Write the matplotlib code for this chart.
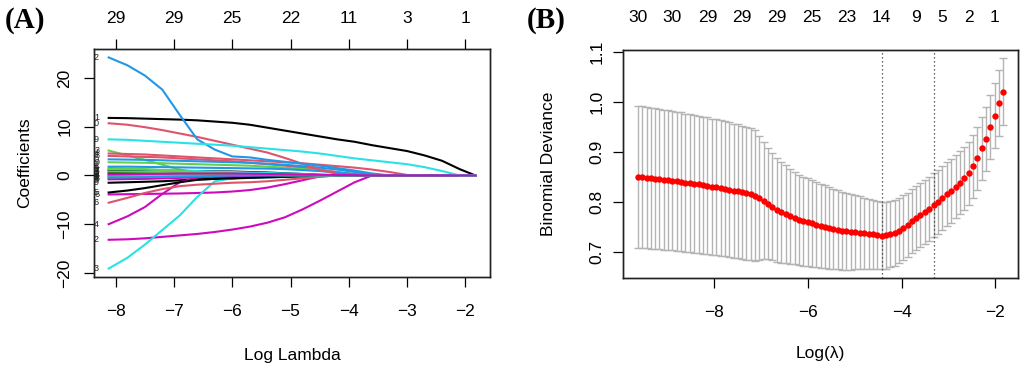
import matplotlib
matplotlib.use("Agg")
import matplotlib.pyplot as plt
import numpy as np

plt.rcParams['font.family'] = ['Liberation Sans', 'DejaVu Sans']

# ---------------- Panel A: LASSO coefficient paths ----------------
PALETTE = ['#000000', '#DF536B', '#61D04F', '#2297E6', '#28E2E5', '#CD0BBC']

path_log_lambda = [-8.12, -7.8, -7.5, -7.2, -6.9, -6.6, -6.3, -6.0, -5.7, -5.4, -5.1,
                   -4.8, -4.5, -4.2, -3.9, -3.6, -3.3, -3.0, -2.7, -2.4, -2.1, -1.83]

coef_v1 = [11.8, 11.75, 11.65, 11.55, 11.45, 11.3, 11.05, 10.8, 10.4, 9.8, 9.2, 8.6, 8.0, 7.4, 6.9, 6.2, 5.6, 5.0, 4.1, 3.0, 1.3, 0.0]
coef_v2 = [0.3, 0.3, 0.28, 0.25, 0.2, 0.15, 0.1, 0.05, 0, 0, 0, 0, 0, 0, 0, 0, 0, 0, 0, 0, 0, 0]
coef_v3 = [5.1, 4.1, 3.2, 2.2, 1.2, 0.5, 0.45, 0.4, 0.35, 0.3, 0.25, 0.2, 0.1, 0, 0, 0, 0, 0, 0, 0, 0, 0]
coef_v4 = [-0.1, -0.1, -0.1, -0.08, -0.05, 0, 0, 0, 0, 0, 0, 0, 0, 0, 0, 0, 0, 0, 0, 0, 0, 0]
coef_v5 = [-0.7, -0.65, -0.6, -0.5, -0.4, -0.3, -0.15, 0, 0, 0, 0, 0, 0, 0, 0, 0, 0, 0, 0, 0, 0, 0]
coef_v6 = [-3.9, -3.85, -3.8, -3.75, -3.7, -3.6, -3.5, -3.3, -3.0, -2.5, -1.8, -1.0, -0.2, 0, 0, 0, 0, 0, 0, 0, 0, 0]
coef_v7 = [1.1, 1.08, 1.05, 1.0, 0.95, 0.9, 0.85, 0.8, 0.7, 0.6, 0.45, 0.3, 0.1, 0, 0, 0, 0, 0, 0, 0, 0, 0]
coef_v8 = [4.0, 3.9, 3.8, 3.7, 3.5, 3.3, 3.1, 2.9, 2.6, 2.3, 2.0, 1.6, 1.2, 0.7, 0.2, 0, 0, 0, 0, 0, 0, 0]
coef_v9 = [2.7, 2.65, 2.6, 2.5, 2.4, 2.3, 2.2, 2.1, 2.0, 1.8, 1.6, 1.3, 1.0, 0.6, 0.2, 0, 0, 0, 0, 0, 0, 0]
coef_v10 = [3.3, 3.25, 3.2, 3.1, 3.0, 2.9, 2.8, 2.7, 2.6, 2.4, 2.2, 1.9, 1.6, 1.2, 0.7, 0.2, 0, 0, 0, 0, 0, 0]
coef_v11 = [1.3, 1.25, 1.2, 1.1, 1.0, 0.9, 0.8, 0.7, 0.6, 0.5, 0.4, 0.3, 0.15, 0, 0, 0, 0, 0, 0, 0, 0, 0]
coef_v12 = [-13.2, -13.1, -12.9, -12.6, -12.3, -12.0, -11.6, -11.1, -10.5, -9.7, -8.6, -7.0, -5.2, -3.3, -1.4, 0, 0, 0, 0, 0, 0, 0]
coef_v13 = [0.6, 0.58, 0.55, 0.5, 0.45, 0.4, 0.35, 0.3, 0.2, 0.1, 0, 0, 0, 0, 0, 0, 0, 0, 0, 0, 0, 0]
coef_v14 = [4.5, 4.4, 4.3, 4.1, 3.9, 3.7, 3.5, 3.3, 3.1, 2.9, 2.7, 2.5, 2.2, 1.9, 1.6, 1.2, 0.7, 0.1, 0, 0, 0, 0]
coef_v15 = [1.5, 1.4, 1.3, 1.1, 0.9, 0.7, 0.5, 0.35, 0.2, 0.1, 0, 0, 0, 0, 0, 0, 0, 0, 0, 0, 0, 0]
coef_v16 = [1.8, 1.8, 1.75, 1.7, 1.65, 1.6, 1.55, 1.5, 1.45, 1.4, 1.3, 1.1, 0.9, 0.6, 0.3, 0, 0, 0, 0, 0, 0, 0]
coef_v17 = [-0.2, -0.2, -0.15, -0.1, 0, 0, 0, 0, 0, 0, 0, 0, 0, 0, 0, 0, 0, 0, 0, 0, 0, 0]
coef_v18 = [-0.8, -0.75, -0.7, -0.6, -0.5, -0.35, -0.2, 0, 0, 0, 0, 0, 0, 0, 0, 0, 0, 0, 0, 0, 0, 0]
coef_v19 = [-1.5, -1.4, -1.3, -1.2, -1.0, -0.8, -0.7, -0.6, -0.4, -0.3, -0.1, 0, 0, 0, 0, 0, 0, 0, 0, 0, 0, 0]
coef_v20 = [10.7, 10.4, 9.9, 9.3, 8.6, 7.9, 7.1, 6.3, 5.5, 4.7, 3.6, 2.4, 1.2, 0.3, 0, 0, 0, 0, 0, 0, 0, 0]
coef_v21 = [-0.3, -0.3, -0.25, -0.2, -0.1, 0, 0, 0, 0, 0, 0, 0, 0, 0, 0, 0, 0, 0, 0, 0, 0, 0]
coef_v22 = [24.2, 22.6, 20.5, 17.6, 12.4, 7.4, 5.3, 3.9, 3.7, 3.2, 2.8, 2.4, 2.0, 1.5, 1.0, 0.4, 0, 0, 0, 0, 0, 0]
coef_v23 = [-19.1, -16.9, -14.2, -11.2, -8.2, -4.4, -1.2, -0.6, -0.5, -0.4, -0.3, -0.2, -0.1, 0, 0, 0, 0, 0, 0, 0, 0, 0]
coef_v24 = [-10.0, -8.4, -6.5, -3.8, -1.4, -0.4, -0.3, -0.3, -0.2, -0.2, -0.1, 0, 0, 0, 0, 0, 0, 0, 0, 0, 0, 0]
coef_v25 = [-3.5, -3.1, -2.6, -2.0, -1.4, -0.9, -0.7, -0.6, -0.5, -0.4, -0.3, -0.2, -0.1, 0, 0, 0, 0, 0, 0, 0, 0, 0]
coef_v26 = [-5.6, -4.6, -3.6, -2.8, -2.2, -1.9, -1.7, -1.5, -1.4, -1.2, -0.9, -0.6, -0.3, 0, 0, 0, 0, 0, 0, 0, 0, 0]
coef_v27 = [0.8, 0.78, 0.75, 0.7, 0.6, 0.5, 0.4, 0.3, 0.2, 0.1, 0, 0, 0, 0, 0, 0, 0, 0, 0, 0, 0, 0]
coef_v28 = [-0.4, -0.4, -0.35, -0.3, -0.25, -0.2, -0.1, 0, 0, 0, 0, 0, 0, 0, 0, 0, 0, 0, 0, 0, 0, 0]
coef_v29 = [7.4, 7.3, 7.1, 6.9, 6.7, 6.5, 6.3, 6.1, 5.8, 5.5, 5.2, 4.9, 4.5, 4.0, 3.5, 3.1, 2.7, 2.3, 1.7, 0.9, 0.0, 0.0]
coef_v30 = [0.2, 0.25, 0.3, 0.35, 0.4, 0.4, 0.4, 0.4, 0.35, 0.3, 0.25, 0.2, 0.15, 0.1, 0.05, 0, 0, 0, 0, 0, 0, 0]

coefs = [coef_v1, coef_v2, coef_v3, coef_v4, coef_v5, coef_v6, coef_v7, coef_v8, coef_v9, coef_v10,
         coef_v11, coef_v12, coef_v13, coef_v14, coef_v15, coef_v16, coef_v17, coef_v18, coef_v19, coef_v20,
         coef_v21, coef_v22, coef_v23, coef_v24, coef_v25, coef_v26, coef_v27, coef_v28, coef_v29, coef_v30]

a_xticks = [-8, -7, -6, -5, -4, -3, -2]
a_yticks = [-20, -10, 0, 10, 20]
a_top_labels = ['29', '29', '25', '22', '11', '3', '1']

# ---------------- Panel B: cross-validation curve ----------------
cv_log_lambda = [-9.64, -9.55, -9.45, -9.36, -9.27, -9.18, -9.08, -8.99, -8.90, -8.80,
                 -8.71, -8.62, -8.52, -8.43, -8.34, -8.25, -8.15, -8.06, -7.97, -7.87,
                 -7.78, -7.69, -7.59, -7.50, -7.41, -7.32, -7.22, -7.13, -7.04, -6.94,
                 -6.85, -6.76, -6.66, -6.57, -6.48, -6.39, -6.29, -6.20, -6.11, -6.01,
                 -5.92, -5.83, -5.73, -5.64, -5.55, -5.46, -5.36, -5.27, -5.18, -5.08,
                 -4.99, -4.90, -4.80, -4.71, -4.62, -4.53, -4.43, -4.34, -4.25, -4.15,
                 -4.06, -3.97, -3.87, -3.78, -3.69, -3.60, -3.50, -3.41, -3.32, -3.22,
                 -3.13, -3.04, -2.94, -2.85, -2.76, -2.67, -2.57, -2.48, -2.39, -2.29,
                 -2.20, -2.11, -2.01, -1.92, -1.83]

cv_mean = [0.850, 0.849, 0.848, 0.847, 0.846, 0.845, 0.844, 0.843, 0.842, 0.841,
           0.840, 0.838, 0.837, 0.836, 0.835, 0.833, 0.832, 0.830, 0.829, 0.827,
           0.826, 0.824, 0.822, 0.821, 0.819, 0.817, 0.815, 0.812, 0.807, 0.802,
           0.796, 0.790, 0.784, 0.779, 0.775, 0.771, 0.767, 0.764, 0.761, 0.759,
           0.757, 0.754, 0.752, 0.750, 0.748, 0.746, 0.744, 0.742, 0.741, 0.740,
           0.739, 0.738, 0.737, 0.736, 0.735, 0.734, 0.732, 0.733, 0.735, 0.738,
           0.742, 0.748, 0.754, 0.761, 0.767, 0.773, 0.779, 0.786, 0.793, 0.800,
           0.808, 0.815, 0.822, 0.830, 0.838, 0.847, 0.857, 0.871, 0.887, 0.907,
           0.926, 0.950, 0.972, 0.998, 1.020]

cv_se = [0.142, 0.142, 0.141, 0.141, 0.141, 0.140, 0.140, 0.140, 0.139, 0.139,
         0.139, 0.138, 0.138, 0.138, 0.137, 0.137, 0.137, 0.136, 0.136, 0.136,
         0.135, 0.135, 0.134, 0.134, 0.133, 0.133, 0.132, 0.131, 0.124, 0.117,
         0.111, 0.107, 0.104, 0.101, 0.098, 0.095, 0.092, 0.090, 0.089, 0.088,
         0.087, 0.085, 0.084, 0.083, 0.082, 0.080, 0.079, 0.078, 0.077, 0.076,
         0.074, 0.073, 0.071, 0.070, 0.069, 0.068, 0.067, 0.067, 0.066, 0.066,
         0.065, 0.065, 0.064, 0.064, 0.064, 0.064, 0.064, 0.064, 0.064, 0.064,
         0.064, 0.064, 0.064, 0.063, 0.063, 0.063, 0.063, 0.063, 0.063, 0.063,
         0.064, 0.064, 0.065, 0.066, 0.067]

idx_lambda_min = 56
idx_lambda_1se = 68
b_top_idx = [0, 8, 16, 24, 32, 40, 48, 56, 64, 70, 76, 82]
b_top_labels = ['30', '30', '29', '29', '29', '25', '23', '14', '9', '5', '2', '1']
b_xticks = [-8, -6, -4, -2]
b_yticks = [0.7, 0.8, 0.9, 1.0, 1.1]

# ---------------- figure ----------------
W, H = 1022, 365
fig = plt.figure(figsize=(W / 100, H / 100), dpi=100)

def px_axes(x0, y0, x1, y1):
    return fig.add_axes([x0 / W, 1 - y1 / H, (x1 - x0) / W, (y1 - y0) / H])

axA = px_axes(94, 49, 490, 277)
axB = px_axes(623, 50, 1018, 278)

FS = 12.5
TICKLEN = 7.5

def r_range(vals):
    lo, hi = min(vals), max(vals)
    d = (hi - lo) * 0.04
    return lo - d, hi + d

# Panel A
for k, vals in enumerate(coefs):
    axA.plot(path_log_lambda, vals, color=PALETTE[k % 6], lw=1.5, solid_joinstyle='round')
for k, vals in enumerate(coefs):
    axA.text(path_log_lambda[0] - 0.16, vals[0], str(k + 1), ha='right', va='center',
             fontsize=6.5, color='#222222', clip_on=True)

axA.set_xlim(*r_range(path_log_lambda))
allc = [v for c in coefs for v in c]
axA.set_ylim(*r_range(allc))
axA.set_xticks(a_xticks)
axA.set_xticklabels(['\u2212' + str(abs(t)) for t in a_xticks], fontsize=FS)
axA.set_yticks(a_yticks)
axA.set_yticklabels([('\u2212' if t < 0 else '') + str(abs(t)) for t in a_yticks],
                    fontsize=FS, rotation=90, va='center')
axA.tick_params(axis='x', length=TICKLEN, width=0.9, pad=12)
axA.tick_params(axis='y', length=TICKLEN, width=0.9, pad=8)
axA.set_xlabel('Log Lambda', fontsize=FS, labelpad=21)
axA.set_ylabel('Coefficients', fontsize=FS, labelpad=18)

topA = axA.twiny()
topA.set_xlim(axA.get_xlim())
topA.set_xticks(a_xticks)
topA.set_xticklabels(a_top_labels, fontsize=FS)
topA.tick_params(axis='x', length=TICKLEN, width=0.9, pad=9)

# Panel B
axB.errorbar(cv_log_lambda, cv_mean, yerr=cv_se, fmt='none', ecolor='#B4B4B4',
             elinewidth=1.0, capsize=2.6, capthick=1.0, zorder=1)
axB.plot(cv_log_lambda, cv_mean, 'o', color='#FF0000', ms=4.6, mec='#FF0000', mew=0, zorder=3)
for i in (idx_lambda_min, idx_lambda_1se):
    axB.axvline(cv_log_lambda[i], color='#333333', lw=0.9, ls=(0, (1, 2.2)), zorder=2)

axB.set_xlim(*r_range(cv_log_lambda))
upper = [m + s for m, s in zip(cv_mean, cv_se)]
lower = [m - s for m, s in zip(cv_mean, cv_se)]
axB.set_ylim(*r_range(upper + lower))
axB.set_xticks(b_xticks)
axB.set_xticklabels(['\u2212' + str(abs(t)) for t in b_xticks], fontsize=FS)
axB.set_yticks(b_yticks)
axB.set_yticklabels(['0.7', '0.8', '0.9', '1.0', '1.1'], fontsize=FS, rotation=90, va='center')
axB.tick_params(axis='x', length=TICKLEN, width=0.9, pad=12)
axB.tick_params(axis='y', length=TICKLEN, width=0.9, pad=6)
axB.set_xlabel('Log(\u03bb)', fontsize=FS, labelpad=19)
axB.set_ylabel('Binomial Deviance', fontsize=FS, labelpad=24)

topB = axB.twiny()
topB.set_xlim(axB.get_xlim())
topB.set_xticks([cv_log_lambda[i] for i in b_top_idx])
topB.set_xticklabels(b_top_labels, fontsize=FS)
topB.tick_params(axis='x', length=0, pad=18)

for ax in (axA, axB, topA, topB):
    for s in ax.spines.values():
        s.set_linewidth(1.0)
        s.set_color('#222222')

fig.text(5 / W, 1 - 21 / H, '(A)', fontfamily='Liberation Serif', fontweight='bold',
         fontsize=21, ha='left', va='center')
fig.text(527 / W, 1 - 21 / H, '(B)', fontfamily='Liberation Serif', fontweight='bold',
         fontsize=21, ha='left', va='center')

fig.savefig('out.png', dpi=100)
